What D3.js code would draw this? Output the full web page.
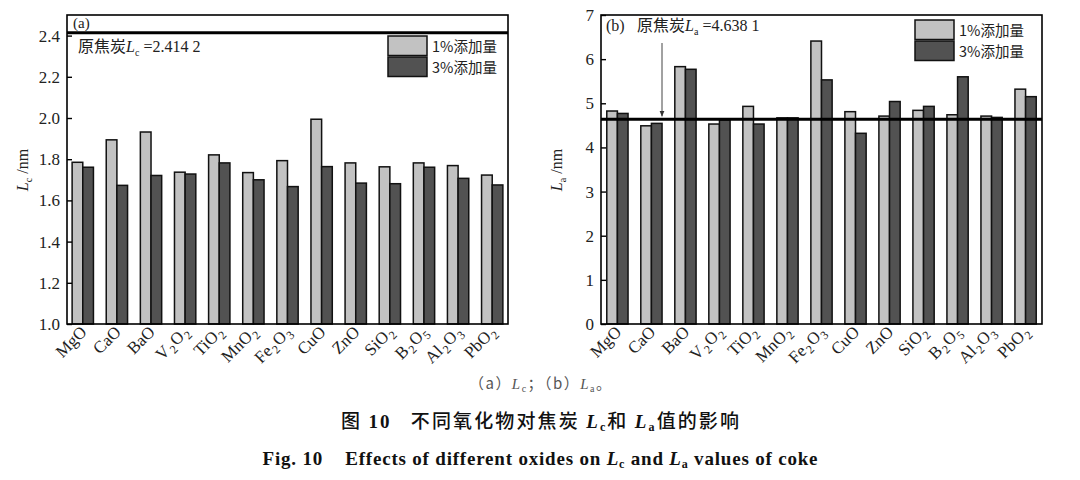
<!DOCTYPE html>
<html><head><meta charset="utf-8">
<script src="https://cdn.jsdelivr.net/npm/d3@7"></script>
<style>
body{margin:0;background:#fff;}
svg text{font-family:"Liberation Serif","Times New Roman",serif;}
.cjk{font-family:"Noto Sans CJK SC",sans-serif;}
</style></head>
<body><svg id="c" width="1080" height="480"></svg>
<script>
const categories = ["MgO","CaO","BaO","V2O2","TiO2","MnO2","Fe2O3","CuO","ZnO","SiO2","B2O5","Al2O3","PbO2"];
const lc1 = [1.785,1.894,1.932,1.737,1.821,1.735,1.793,1.994,1.782,1.763,1.782,1.769,1.723];
const lc3 = [1.761,1.673,1.721,1.728,1.782,1.700,1.667,1.764,1.684,1.681,1.761,1.707,1.675];
const la1 = [4.825,4.49,5.83,4.53,4.93,4.67,6.41,4.81,4.71,4.84,4.74,4.71,5.32];
const la3 = [4.77,4.545,5.77,4.62,4.53,4.67,5.53,4.32,5.04,4.93,5.60,4.68,5.15];
const lcTicks = [1.0,1.2,1.4,1.6,1.8,2.0,2.2,2.4];
const laTicks = [0,1,2,3,4,5,6,7];
const lcRef = 2.4142, laRef = 4.6381;
const seriesNames = ["1%添加量","3%添加量"];
const colors = ["#c2c2c2","#525252"];

const svg = d3.select("#c");

function subText(sel, label, size){
  let prevSub=false;
  for(const ch of label){
    const isD = /[0-9]/.test(ch);
    const t = sel.append("tspan").text(ch);
    if(isD){ t.attr("font-size", size*0.7).attr("dy", prevSub?0:4).attr("dx",1); }
    else { t.attr("font-size", size).attr("dy", prevSub?-4:0).attr("dx",prevSub?1:0); }
    prevSub=isD;
  }
}

function panel(o){
  const g = svg.append("g");
  const x = d3.scaleBand().domain(categories).range([o.x0,o.x1]).paddingInner(0.375).paddingOuter(o.po);
  const xs = d3.scaleBand().domain([0,1]).range([0,x.bandwidth()]);
  const y = d3.scaleLinear().domain(o.dom).range([324,15]);
  const grp = g.selectAll("g.grp").data(categories).join("g").attr("transform",d=>`translate(${x(d)},0)`);
  [o.s1,o.s2].forEach((s,si)=>{
    grp.append("rect")
      .attr("x",xs(si)).attr("width",xs.bandwidth())
      .attr("y",(d,i)=>y(s[i])).attr("height",(d,i)=>y(o.dom[0])-y(s[i]))
      .attr("fill",colors[si]).attr("stroke","#111").attr("stroke-width",1.5);
  });
  g.append("line").attr("x1",o.x0).attr("x2",o.x1).attr("y1",y(o.ref)).attr("y2",y(o.ref))
    .attr("stroke","#000").attr("stroke-width",3);
  g.append("rect").attr("x",o.x0).attr("y",15).attr("width",o.x1-o.x0).attr("height",309)
    .attr("fill","none").attr("stroke","#000").attr("stroke-width",1.6);
  const ax = g.append("g").attr("transform",`translate(${o.x0},0)`)
    .call(d3.axisLeft(y).tickValues(o.ticks).tickSize(-5).tickPadding(7).tickFormat(o.fmt));
  ax.select(".domain").remove();
  ax.selectAll("line").attr("stroke","#000").attr("stroke-width",1.4);
  ax.selectAll("text").attr("font-size",17).attr("fill","#222").attr("font-family","Liberation Serif, serif");
  categories.forEach(c=>{
    const t = g.append("text").attr("text-anchor","end")
      .attr("transform",`translate(${x(c)+x.bandwidth()/2+5},${333}) rotate(-45)`)
      .attr("fill","#222");
    subText(t,c,17);
  });
  const yt = g.append("text").attr("transform",`translate(${o.x0-39},170) rotate(-90)`)
    .attr("text-anchor","middle").attr("font-size",16).attr("fill","#222");
  yt.append("tspan").attr("font-style","italic").text("L");
  yt.append("tspan").attr("font-size",10).attr("dy",4).text(o.sub);
  yt.append("tspan").attr("dy",-4).text(" /nm");
  seriesNames.forEach((n,i)=>{
    g.append("rect").attr("x",o.x1-o.lgdx).attr("y",o.lgy+i*o.lgStep).attr("width",39).attr("height",o.lgStep-1.5)
      .attr("fill",colors[i]).attr("stroke","#111").attr("stroke-width",1.5);
    g.append("text").attr("class","cjk").attr("x",o.x1-o.lgdx+44).attr("y",o.lgy+i*o.lgStep+o.lgStep/2+5)
      .attr("font-size",14.5).attr("fill","#222").text(n);
  });
  return {g,x,y};
}

const A = panel({x0:67,x1:508,po:0.15,dom:[1.0,2.5],s1:lc1,s2:lc3,ref:lcRef,ticks:lcTicks,fmt:d3.format(".1f"),sub:"c",lgdx:120,lgy:36,lgStep:21});
const B = panel({x0:601,x1:1042,po:0.17,dom:[0,7],s1:la1,s2:la3,ref:laRef,ticks:laTicks,fmt:d3.format("d"),sub:"a",lgdx:127,lgy:20,lgStep:21});

A.g.append("rect").attr("x",72).attr("y",16).attr("width",22).attr("height",13).attr("fill","#fff");
A.g.append("text").attr("x",73).attr("y",28).attr("font-size",15).attr("fill","#222").text("(a)");
function refLabel(g,xp,yp,sub,val){
  const t = g.append("text").attr("x",xp).attr("y",yp).attr("font-size",16).attr("fill","#222");
  t.append("tspan").attr("font-family","Noto Sans CJK SC, sans-serif").text("原焦炭");
  t.append("tspan").attr("font-style","italic").text("L");
  t.append("tspan").attr("font-size",10).attr("dy",4).text(sub);
  t.append("tspan").attr("dy",-4).text("\u00a0=" + val);
}
refLabel(A.g,78,52,"c","2.414\u00a02");
B.g.append("text").attr("x",606).attr("y",31).attr("font-size",16).attr("fill","#222").text("(b)");
refLabel(B.g,637,31,"a","4.638\u00a01");
svg.append("defs").append("marker").attr("id","ah").attr("viewBox","0 0 10 10").attr("refX",9).attr("refY",5)
  .attr("markerWidth",6).attr("markerHeight",8).attr("orient","auto")
  .append("path").attr("d","M0,1 L10,5 L0,9 Z").attr("fill","#333");
B.g.append("line").attr("x1",662).attr("x2",662).attr("y1",43).attr("y2",B.y(laRef)-3)
  .attr("stroke","#444").attr("stroke-width",1).attr("marker-end","url(#ah)");

// captions
const c1 = svg.append("text").attr("x",540).attr("y",389).attr("text-anchor","middle").attr("font-size",15).attr("fill","#555")
  .attr("textLength",142).attr("lengthAdjust","spacing");
c1.append("tspan").attr("font-family","Noto Sans CJK SC, sans-serif").text("（a）");
c1.append("tspan").attr("font-style","italic").text("L");
c1.append("tspan").attr("font-size",10).attr("dy",3).text("c");
c1.append("tspan").attr("dy",-3).attr("font-family","Noto Sans CJK SC, sans-serif").text("；（b）");
c1.append("tspan").attr("font-style","italic").text("L");
c1.append("tspan").attr("font-size",10).attr("dy",3).text("a");
c1.append("tspan").attr("dy",-3).attr("font-family","Noto Sans CJK SC, sans-serif").text("。");

const c2 = svg.append("text").attr("x",540).attr("y",428).attr("text-anchor","middle").attr("font-size",19).attr("fill","#111").attr("font-weight",500)
  .attr("textLength",398).attr("lengthAdjust","spacing");
c2.append("tspan").attr("font-family","Noto Sans CJK SC, sans-serif").text("图\u00a0");
c2.append("tspan").attr("font-weight","bold").text("10");
c2.append("tspan").attr("font-family","Noto Sans CJK SC, sans-serif").text("\u00a0\u00a0\u00a0不同氧化物对焦炭\u00a0");
c2.append("tspan").attr("font-style","italic").attr("font-weight","bold").text("L");
c2.append("tspan").attr("font-size",12).attr("dy",3).attr("font-weight","bold").text("c");
c2.append("tspan").attr("dy",-3).attr("font-family","Noto Sans CJK SC, sans-serif").text("和\u00a0");
c2.append("tspan").attr("font-style","italic").attr("font-weight","bold").text("L");
c2.append("tspan").attr("font-size",12).attr("dy",3).attr("font-weight","bold").text("a");
c2.append("tspan").attr("dy",-3).attr("font-family","Noto Sans CJK SC, sans-serif").text("值的影响");

const c3 = svg.append("text").attr("x",540).attr("y",465).attr("text-anchor","middle").attr("font-size",19).attr("fill","#111").attr("font-weight","bold")
  .attr("textLength",555).attr("lengthAdjust","spacing");
c3.append("tspan").text("Fig.\u00a010\u00a0\u00a0\u00a0\u00a0Effects of different oxides on ");
c3.append("tspan").attr("font-style","italic").text("L");
c3.append("tspan").attr("font-size",12).attr("dy",3).text("c");
c3.append("tspan").attr("dy",-3).text(" and ");
c3.append("tspan").attr("font-style","italic").text("L");
c3.append("tspan").attr("font-size",12).attr("dy",3).text("a");
c3.append("tspan").attr("dy",-3).text(" values of coke");
</script></body></html>
